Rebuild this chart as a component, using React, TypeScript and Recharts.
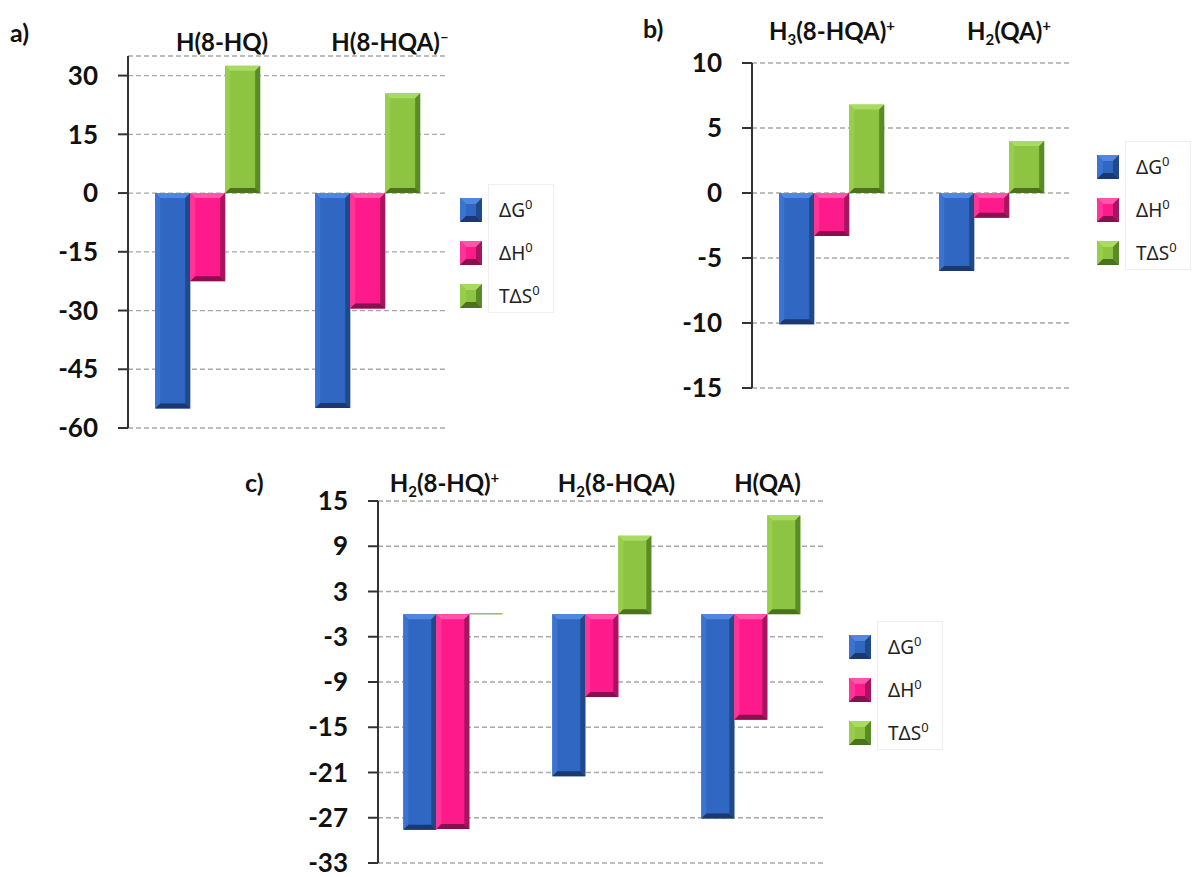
import React from "react";
import { BarChart, Bar, XAxis, YAxis, CartesianGrid, Legend } from "recharts";

// panel a
const panelACategories = ["H(8-HQ)", "H(8-HQA)⁻"];
const panelADeltaG = [-55.0, -54.9];
const panelADeltaH = [-22.5, -29.5];
const panelATDeltaS = [32.5, 25.5];
const panelATicks = [-60, -45, -30, -15, 0, 15, 30];

// panel b
const panelBCategories = ["H₃(8-HQA)⁺", "H₂(QA)⁺"];
const panelBDeltaG = [-10.1, -6.0];
const panelBDeltaH = [-3.3, -1.9];
const panelBTDeltaS = [6.8, 4.0];
const panelBTicks = [-15, -10, -5, 0, 5, 10];

// panel c
const panelCCategories = ["H₂(8-HQ)⁺", "H₂(8-HQA)", "H(QA)"];
const panelCDeltaG = [-28.6, -21.5, -27.1];
const panelCDeltaH = [-28.5, -11.0, -14.0];
const panelCTDeltaS = [0.1, 10.4, 13.1];
const panelCTicks = [-33, -27, -21, -15, -9, -3, 3, 9, 15];

const BOLD_FONT = "Lato, 'Open Sans', sans-serif";
const LEGEND_FONT = "'Noto Sans', 'DejaVu Sans', sans-serif";

const SERIES = [
  {
    key: "dG",
    name: "ΔG",
    tone: { main: "#2f67c3", light: "#4f88de", left: "#3b74d0", right: "#20498c", dark: "#1b3970" },
  },
  {
    key: "dH",
    name: "ΔH",
    tone: { main: "#ff1a8c", light: "#ff55aa", left: "#ff3398", right: "#a8145f", dark: "#8a0f4e" },
  },
  {
    key: "TdS",
    name: "TΔS",
    tone: { main: "#8dc441", light: "#a9da62", left: "#97ce4b", right: "#5b8b27", dark: "#4b721f" },
  },
];

function toRows(categories: string[], dG: number[], dH: number[], tdS: number[]) {
  return categories.map((name, i) => ({ name, dG: dG[i], dH: dH[i], TdS: tdS[i] }));
}

function BevelBar(props: any) {
  const { x, y, width, height, tone } = props;
  if (x == null || y == null) return null;
  const top = Math.min(y, y + height);
  const h = Math.abs(height);
  const w = width;
  const b = Math.min(5, h / 2, w / 2);
  const x2 = x + w;
  const y2 = top + h;
  return (
    <g>
      <rect x={x} y={top} width={w} height={h} fill={tone.main} />
      <polygon points={`${x},${top} ${x2},${top} ${x2 - b},${top + b} ${x + b},${top + b}`} fill={tone.light} />
      <polygon points={`${x},${top} ${x + b},${top + b} ${x + b},${y2 - b} ${x},${y2}`} fill={tone.left} />
      <polygon points={`${x2},${top} ${x2},${y2} ${x2 - b},${y2 - b} ${x2 - b},${top + b}`} fill={tone.right} />
      <polygon points={`${x},${y2} ${x2},${y2} ${x2 - b},${y2 - b} ${x + b},${y2 - b}`} fill={tone.dark} />
    </g>
  );
}

const SUB: { [k: string]: string } = { "₂": "2", "₃": "3" };
const SUP: { [k: string]: string } = { "⁺": "+", "⁻": "–" };

function scriptParts(label: string) {
  const parts: { text: string; shift: number; small: boolean }[] = [];
  for (const ch of label) {
    let text = ch;
    let shift = 0;
    let small = false;
    if (SUB[ch]) {
      text = SUB[ch];
      shift = 5;
      small = true;
    } else if (SUP[ch]) {
      text = SUP[ch];
      shift = -9;
      small = true;
    }
    const last = parts[parts.length - 1];
    if (last && last.shift === shift) last.text += text;
    else parts.push({ text, shift, small });
  }
  return parts;
}

function CategoryTick(props: any) {
  const { x, y, payload, index, dxs, dy } = props;
  const parts = scriptParts(String(payload.value));
  let current = 0;
  return (
    <text
      x={x + (dxs[index] || 0)}
      y={y + dy}
      textAnchor="middle"
      fontFamily={BOLD_FONT}
      fontSize={24}
      fontWeight={700}
      fill="#111"
    >
      {parts.map((p, i) => {
        const d = p.shift - current;
        current = p.shift;
        return (
          <tspan key={i} dy={d} fontSize={p.small ? 15 : 24}>
            {p.text}
          </tspan>
        );
      })}
    </text>
  );
}

function LegendIcon({ tone }: { tone: any }) {
  const w = 22;
  const h = 24;
  const b = 6;
  return (
    <svg width={w} height={h} style={{ display: "block" }}>
      <rect x={0} y={0} width={w} height={h} fill={tone.main} />
      <polygon points={`0,0 ${w},0 ${w - b},${b} ${b},${b}`} fill={tone.light} />
      <polygon points={`0,0 ${b},${b} ${b},${h - b} 0,${h}`} fill={tone.left} />
      <polygon points={`${w},0 ${w},${h} ${w - b},${h - b} ${w - b},${b}`} fill={tone.right} />
      <polygon points={`0,${h} ${w},${h} ${w - b},${h - b} ${b},${h - b}`} fill={tone.dark} />
    </svg>
  );
}

// legend rows follow the series order, as in the reference
function LegendBox() {
  return (
    <div style={{ position: "relative", fontFamily: LEGEND_FONT, fontSize: 19, color: "#222" }}>
      <div
        style={{
          position: "absolute",
          left: 28,
          top: -4,
          width: 64,
          height: 127,
          border: "1px solid #efefef",
        }}
      />
      {SERIES.map((s) => (
        <div key={s.key} style={{ display: "flex", alignItems: "center", height: 43, position: "relative" }}>
          <LegendIcon tone={s.tone} />
          <span style={{ marginLeft: 17, whiteSpace: "nowrap" }}>
            {s.name}
            <span style={{ fontSize: 13, position: "relative", top: -8 }}>0</span>
          </span>
        </div>
      ))}
    </div>
  );
}

function Panel({
  rows,
  ticks,
  domain,
  width,
  height,
  margin,
  yWidth,
  xHeight,
  labelDy,
  labelDxs,
  legendX,
  legendY,
}: any) {
  return (
    <BarChart width={width} height={height} data={rows} margin={margin} barCategoryGap="17%" barGap={0}>
      <CartesianGrid vertical={false} stroke="#a8a8a8" strokeDasharray="5 3" strokeWidth={1.3} />
      <XAxis
        dataKey="name"
        orientation="top"
        height={xHeight}
        axisLine={false}
        tickLine={false}
        tickSize={0}
        tickMargin={0}
        interval={0}
        tick={<CategoryTick dxs={labelDxs} dy={labelDy} />}
      />
      <YAxis
        width={yWidth}
        domain={domain}
        ticks={ticks}
        interval={0}
        axisLine={{ stroke: "#333", strokeWidth: 2 }}
        tickLine={{ stroke: "#333", strokeWidth: 2 }}
        tickSize={10}
        tickMargin={20}
        tick={{ fill: "#111", fontSize: 26, fontWeight: 700, fontFamily: BOLD_FONT }}
      />
      <Legend
        layout="vertical"
        align="center"
        verticalAlign="middle"
        wrapperStyle={{ left: legendX, top: legendY, width: "auto", height: "auto" }}
        content={() => <LegendBox />}
      />
      {SERIES.map((s) => (
        <Bar
          key={s.key}
          dataKey={s.key}
          name={s.name}
          fill={s.tone.main}
          isAnimationActive={false}
          shape={(p: any) => <BevelBar {...p} tone={s.tone} />}
        />
      ))}
    </BarChart>
  );
}

const panelLabel: React.CSSProperties = {
  position: "absolute",
  fontFamily: BOLD_FONT,
  fontWeight: 700,
  fontSize: 25,
  lineHeight: "25px",
  color: "#111",
};

export default function App() {
  return (
    <div style={{ position: "relative", width: 1200, height: 877, background: "#fff", overflow: "hidden" }}>
      <style>{"body{margin:0;background:#fff}"}</style>
      <div style={{ position: "absolute", left: 0, top: 0 }}>
        <Panel
          rows={toRows(panelACategories, panelADeltaG, panelADeltaH, panelATDeltaS)}
          ticks={panelATicks}
          domain={[-60, 35]}
          width={600}
          height={456}
          margin={{ top: 0, right: 152, bottom: 28, left: 0 }}
          yWidth={128}
          xHeight={56}
          labelDy={-5}
          labelDxs={[14, 22]}
          legendX={460}
          legendY={188}
        />
      </div>
      <div style={{ position: "absolute", left: 600, top: 0 }}>
        <Panel
          rows={toRows(panelBCategories, panelBDeltaG, panelBDeltaH, panelBTDeltaS)}
          ticks={panelBTicks}
          domain={[-15, 10]}
          width={600}
          height={440}
          margin={{ top: 0, right: 128, bottom: 52, left: 0 }}
          yWidth={152}
          xHeight={63}
          labelDy={-23}
          labelDxs={[0, 17]}
          legendX={497}
          legendY={145}
        />
      </div>
      <div style={{ position: "absolute", left: 0, top: 438 }}>
        <Panel
          rows={toRows(panelCCategories, panelCDeltaG, panelCDeltaH, panelCTDeltaS)}
          ticks={panelCTicks}
          domain={[-33, 15]}
          width={1200}
          height={439}
          margin={{ top: 0, right: 375, bottom: 14, left: 0 }}
          yWidth={378}
          xHeight={63}
          labelDy={-9}
          labelDxs={[-8, 15, 17]}
          legendX={849}
          legendY={187}
        />
      </div>
      <div style={{ ...panelLabel, left: 10, top: 20 }}>a)</div>
      <div style={{ ...panelLabel, left: 643, top: 16 }}>b)</div>
      <div style={{ ...panelLabel, left: 245, top: 470 }}>c)</div>
    </div>
  );
}
